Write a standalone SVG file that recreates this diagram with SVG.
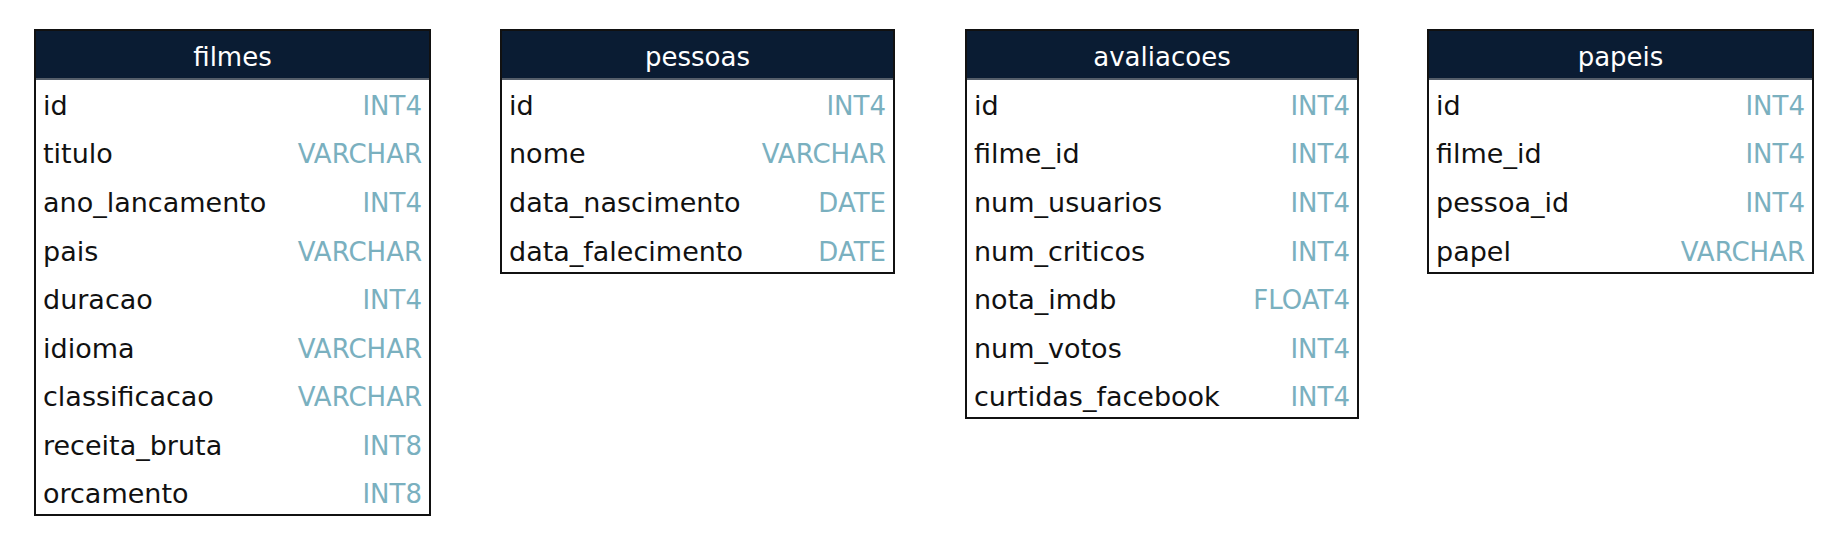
<svg xmlns="http://www.w3.org/2000/svg" width="1826" height="560" viewBox="0 0 1826 560">
<style>
.hd{fill:#0a1c33}
.sep{stroke:#555e6a;stroke-width:2}
.box{fill:none;stroke:#111;stroke-width:2}
.title{font-family:"DejaVu Sans","Liberation Sans",sans-serif;font-size:26px;fill:#ffffff;text-anchor:middle}
.col{font-family:"DejaVu Sans","Liberation Sans",sans-serif;font-size:27px;fill:#111111}
.typ{font-family:"DejaVu Sans","Liberation Sans",sans-serif;font-size:26px;fill:#7ab0bf;text-anchor:end}
</style>
<rect width="1826" height="560" fill="#ffffff"/>
<g id="filmes">
<rect x="35" y="30" width="395" height="485" fill="#fff"/>
<rect class="hd" x="35" y="30" width="395" height="49"/>
<line class="sep" x1="35" y1="79" x2="430" y2="79"/>
<text class="title" x="232.5" y="66">filmes</text>
<text class="col" x="43" y="115">id</text><text class="typ" x="422" y="115">INT4</text>
<text class="col" x="43" y="163">titulo</text><text class="typ" x="422" y="163">VARCHAR</text>
<text class="col" x="43" y="212">ano_lancamento</text><text class="typ" x="422" y="212">INT4</text>
<text class="col" x="43" y="261">pais</text><text class="typ" x="422" y="261">VARCHAR</text>
<text class="col" x="43" y="309">duracao</text><text class="typ" x="422" y="309">INT4</text>
<text class="col" x="43" y="358">idioma</text><text class="typ" x="422" y="358">VARCHAR</text>
<text class="col" x="43" y="406">classificacao</text><text class="typ" x="422" y="406">VARCHAR</text>
<text class="col" x="43" y="455">receita_bruta</text><text class="typ" x="422" y="455">INT8</text>
<text class="col" x="43" y="503">orcamento</text><text class="typ" x="422" y="503">INT8</text>
<rect class="box" x="35" y="30" width="395" height="485"/>
</g>
<g id="pessoas">
<rect x="501" y="30" width="393" height="243" fill="#fff"/>
<rect class="hd" x="501" y="30" width="393" height="49"/>
<line class="sep" x1="501" y1="79" x2="894" y2="79"/>
<text class="title" x="697.5" y="66">pessoas</text>
<text class="col" x="509" y="115">id</text><text class="typ" x="886" y="115">INT4</text>
<text class="col" x="509" y="163">nome</text><text class="typ" x="886" y="163">VARCHAR</text>
<text class="col" x="509" y="212">data_nascimento</text><text class="typ" x="886" y="212">DATE</text>
<text class="col" x="509" y="261">data_falecimento</text><text class="typ" x="886" y="261">DATE</text>
<rect class="box" x="501" y="30" width="393" height="243"/>
</g>
<g id="avaliacoes">
<rect x="966" y="30" width="392" height="388" fill="#fff"/>
<rect class="hd" x="966" y="30" width="392" height="49"/>
<line class="sep" x1="966" y1="79" x2="1358" y2="79"/>
<text class="title" x="1162" y="66">avaliacoes</text>
<text class="col" x="974" y="115">id</text><text class="typ" x="1350" y="115">INT4</text>
<text class="col" x="974" y="163">filme_id</text><text class="typ" x="1350" y="163">INT4</text>
<text class="col" x="974" y="212">num_usuarios</text><text class="typ" x="1350" y="212">INT4</text>
<text class="col" x="974" y="261">num_criticos</text><text class="typ" x="1350" y="261">INT4</text>
<text class="col" x="974" y="309">nota_imdb</text><text class="typ" x="1350" y="309">FLOAT4</text>
<text class="col" x="974" y="358">num_votos</text><text class="typ" x="1350" y="358">INT4</text>
<text class="col" x="974" y="406">curtidas_facebook</text><text class="typ" x="1350" y="406">INT4</text>
<rect class="box" x="966" y="30" width="392" height="388"/>
</g>
<g id="papeis">
<rect x="1428" y="30" width="385" height="243" fill="#fff"/>
<rect class="hd" x="1428" y="30" width="385" height="49"/>
<line class="sep" x1="1428" y1="79" x2="1813" y2="79"/>
<text class="title" x="1620.5" y="66">papeis</text>
<text class="col" x="1436" y="115">id</text><text class="typ" x="1805" y="115">INT4</text>
<text class="col" x="1436" y="163">filme_id</text><text class="typ" x="1805" y="163">INT4</text>
<text class="col" x="1436" y="212">pessoa_id</text><text class="typ" x="1805" y="212">INT4</text>
<text class="col" x="1436" y="261">papel</text><text class="typ" x="1805" y="261">VARCHAR</text>
<rect class="box" x="1428" y="30" width="385" height="243"/>
</g>
<g id="connectors"></g>
</svg>
